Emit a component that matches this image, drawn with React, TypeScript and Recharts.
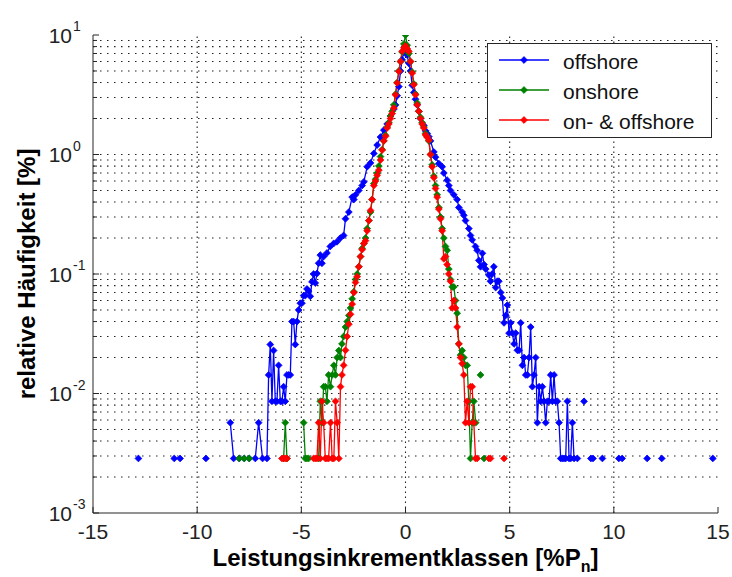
import { LineChart, Line, XAxis, YAxis, ReferenceLine, Legend } from 'recharts';

const FONT = '"Liberation Sans", Arial, Helvetica, sans-serif';
const AXIS = '#262626';

const xTicks = [-15, -10, -5, 0, 5, 10, 15];
const xGrid = [-10, -5, 0, 5, 10];
const yMajor = [0.001, 0.01, 0.1, 1, 10];
const yTicks = [
  0.001, 0.002, 0.003, 0.004, 0.005, 0.006, 0.007, 0.008, 0.009,
  0.01, 0.02, 0.03, 0.04, 0.05, 0.06, 0.07, 0.08, 0.09,
  0.1, 0.2, 0.3, 0.4, 0.5, 0.6, 0.7, 0.8, 0.9,
  1, 2, 3, 4, 5, 6, 7, 8, 9, 10,
];
const yGrid = yTicks.filter((v) => v > 0.001 && v < 10);

// [Leistungsinkrement, relative Häufigkeit]; null = leere Klasse (Linie unterbrochen)
const offshore: [number, number | null][] = [
  [-12.82, 0.00286], [-12.0, null],
  [-11.1, 0.00286], [-10.82, 0.00286], [-10.2, null],
  [-9.58, 0.00286], [-9.0, null],
  [-8.41, 0.0057], [-8.25, 0.00286], [-7.98, 0.00286], [-7.74, 0.00286], [-7.5, 0.00286],
  [-7.21, 0.00286], [-7.05, 0.0057], [-6.86, 0.00286], [-6.65, 0.00286],
  [-6.57, 0.0143], [-6.49, 0.0257], [-6.41, 0.0086], [-6.33, 0.0229], [-6.25, 0.0086],
  [-6.17, 0.0086], [-6.09, 0.0172], [-6.01, 0.0086], [-5.93, 0.0086], [-5.85, 0.0114],
  [-5.77, 0.0086], [-5.69, 0.0143], [-5.61, 0.0143], [-5.53, 0.0143], [-5.45, 0.04],
  [-5.37, 0.04], [-5.29, 0.0257], [-5.21, 0.04], [-5.13, 0.05], [-5.05, 0.057],
  [-4.97, 0.057], [-4.89, 0.066], [-4.81, 0.066], [-4.73, 0.075], [-4.65, 0.072],
  [-4.57, 0.065], [-4.49, 0.086], [-4.41, 0.1], [-4.33, 0.084], [-4.25, 0.101],
  [-4.17, 0.123], [-4.09, 0.144], [-4.01, 0.123], [-3.93, 0.14], [-3.77, 0.15],
  [-3.61, 0.17], [-3.45, 0.18], [-3.29, 0.186], [-3.13, 0.2], [-2.97, 0.21],
  [-2.88, 0.29], [-2.72, 0.33], [-2.56, 0.44], [-2.48, 0.42], [-2.4, 0.46],
  [-2.24, 0.5], [-2.08, 0.55], [-2.0, 0.59], [-1.84, 0.79], [-1.68, 0.85],
  [-1.52, 1.02], [-1.36, 1.2], [-1.2, 1.4], [-1.04, 1.6], [-0.88, 1.8],
  [-0.72, 2.1], [-0.56, 2.4], [-0.48, 2.6], [-0.4, 3.1], [-0.32, 3.7],
  [-0.24, 5.0], [-0.16, 6.2], [-0.08, 7.2], [0, 7.8], [0.08, 6.8],
  [0.16, 5.8], [0.24, 5.0], [0.32, 3.8], [0.4, 3.3], [0.48, 2.9],
  [0.56, 2.6], [0.64, 2.3], [0.72, 2.0], [0.88, 1.75], [0.96, 1.58],
  [1.04, 1.5], [1.12, 1.41], [1.2, 1.3], [1.36, 1.05], [1.44, 0.95],
  [1.6, 0.84], [1.76, 0.79], [1.84, 0.7], [2.0, 0.61], [2.08, 0.55],
  [2.16, 0.5], [2.32, 0.46], [2.48, 0.42], [2.56, 0.36], [2.72, 0.33],
  [2.8, 0.31], [2.88, 0.28], [3.04, 0.24], [3.12, 0.21], [3.2, 0.193],
  [3.36, 0.17], [3.44, 0.158], [3.52, 0.13], [3.6, 0.115], [3.69, 0.149],
  [3.77, 0.12], [3.85, 0.11], [4.0, 0.098], [4.08, 0.087], [4.16, 0.1],
  [4.24, 0.115], [4.33, 0.077], [4.41, 0.087], [4.48, 0.087], [4.57, 0.07],
  [4.65, 0.063], [4.73, 0.039], [4.81, 0.045], [4.89, 0.055], [4.97, 0.032],
  [5.05, 0.039], [5.13, 0.032], [5.21, 0.026], [5.29, 0.032], [5.37, 0.023],
  [5.45, 0.023], [5.53, 0.039], [5.61, 0.0172], [5.69, 0.02], [5.77, 0.0143],
  [5.85, 0.0143], [5.93, 0.02], [6.01, 0.036], [6.09, 0.0114], [6.17, 0.0143],
  [6.25, 0.02], [6.33, 0.0057], [6.41, 0.0114], [6.49, 0.0086], [6.57, 0.0114],
  [6.65, 0.0086], [6.73, 0.0057], [6.81, 0.0086], [6.89, 0.0086], [6.97, 0.0143],
  [7.05, 0.0086], [7.13, 0.0143], [7.21, 0.0086], [7.29, 0.0086], [7.37, 0.0057],
  [7.45, 0.00286], [7.53, 0.00286], [7.61, 0.00286], [7.69, 0.00286], [7.77, 0.0086],
  [7.85, 0.00286], [7.93, 0.00286], [8.01, 0.0057], [8.09, 0.00286], [8.25, 0.00286],
  [8.4, null], [8.57, 0.0086], [8.7, null],
  [8.9, 0.00286], [9.0, 0.00286], [9.2, null],
  [9.45, 0.00286], [9.8, null],
  [10.24, 0.00286], [10.4, 0.00286], [11.0, null],
  [11.6, 0.00286], [12.0, null],
  [12.3, 0.00286], [13.5, null],
  [14.75, 0.00286],
];

const onshore: [number, number | null][] = [
  [-7.98, 0.00286], [-7.74, 0.00286], [-7.5, 0.00286], [-7.0, null],
  [-5.85, 0.00286], [-5.77, 0.0057], [-5.69, 0.00286], [-5.3, null],
  [-4.89, 0.0057], [-4.81, 0.00286], [-4.73, 0.00286], [-4.65, 0.00286], [-4.4, null],
  [-4.17, 0.00286], [-4.09, 0.0086], [-4.01, 0.0057], [-3.93, 0.0114], [-3.85, 0.0114],
  [-3.77, 0.0086], [-3.69, 0.0143], [-3.6, 0.0114], [-3.52, 0.0143], [-3.44, 0.0172],
  [-3.36, 0.0143], [-3.28, 0.02], [-3.2, 0.0229], [-3.12, 0.02], [-3.05, 0.026],
  [-2.97, 0.03], [-2.88, 0.036], [-2.8, 0.04], [-2.72, 0.045], [-2.64, 0.052],
  [-2.56, 0.062], [-2.48, 0.071], [-2.4, 0.09], [-2.32, 0.1], [-2.24, 0.115],
  [-2.16, 0.14], [-2.08, 0.164], [-2.0, 0.18], [-1.92, 0.2], [-1.84, 0.24],
  [-1.76, 0.28], [-1.68, 0.33], [-1.6, 0.42], [-1.52, 0.57], [-1.44, 0.62],
  [-1.36, 0.7], [-1.28, 0.8], [-1.2, 0.96], [-1.12, 1.1], [-1.04, 1.3],
  [-0.96, 1.45], [-0.88, 1.7], [-0.8, 1.85], [-0.72, 2.1], [-0.64, 2.3],
  [-0.56, 2.6], [-0.48, 3.2], [-0.4, 4.0], [-0.32, 5.0], [-0.24, 6.0],
  [-0.16, 7.2], [-0.08, 8.4], [0, 10.0], [0.08, 8.2], [0.16, 7.0],
  [0.24, 6.0], [0.32, 4.9], [0.4, 3.9], [0.48, 3.2], [0.56, 2.7],
  [0.64, 2.3], [0.72, 2.05], [0.8, 1.85], [0.88, 1.7], [0.96, 1.5],
  [1.04, 1.4], [1.12, 1.3], [1.2, 1.0], [1.28, 0.82], [1.36, 0.66],
  [1.44, 0.55], [1.52, 0.46], [1.6, 0.36], [1.68, 0.3], [1.76, 0.24],
  [1.84, 0.2], [1.92, 0.17], [2.0, 0.158], [2.08, 0.11], [2.16, 0.09],
  [2.24, 0.078], [2.32, 0.078], [2.4, 0.06], [2.48, 0.047], [2.56, 0.026],
  [2.64, 0.021], [2.72, 0.0229], [2.8, 0.02], [2.88, 0.0172], [2.96, 0.0172],
  [3.04, 0.0086], [3.12, 0.00286], [3.2, 0.0057], [3.28, 0.0086], [3.37, 0.0057],
  [3.48, null], [3.6, 0.0143], [3.68, null], [3.77, 0.00286],
];

const combined: [number, number | null][] = [
  [-5.93, 0.00286], [-5.85, 0.00286], [-5.77, 0.00286], [-5.69, 0.00286], [-5.0, null],
  [-4.41, 0.00286], [-4.33, 0.00286], [-4.25, 0.00286], [-4.17, 0.0057], [-4.09, 0.00286],
  [-4.01, 0.0086], [-3.93, 0.0057], [-3.85, 0.00286], [-3.77, 0.00286], [-3.69, 0.00286],
  [-3.6, 0.0057], [-3.52, 0.00286], [-3.44, 0.00286], [-3.36, 0.0086], [-3.28, 0.0057],
  [-3.2, 0.00286], [-3.12, 0.0114], [-3.05, 0.0143], [-2.97, 0.0172], [-2.88, 0.023],
  [-2.8, 0.03], [-2.72, 0.038], [-2.64, 0.046], [-2.56, 0.056], [-2.48, 0.07],
  [-2.4, 0.085], [-2.32, 0.095], [-2.24, 0.115], [-2.16, 0.14], [-2.08, 0.16],
  [-2.0, 0.18], [-1.92, 0.19], [-1.84, 0.23], [-1.76, 0.28], [-1.68, 0.34],
  [-1.6, 0.42], [-1.52, 0.55], [-1.44, 0.6], [-1.36, 0.67], [-1.28, 0.74],
  [-1.2, 0.9], [-1.12, 1.09], [-1.04, 1.3], [-0.96, 1.42], [-0.88, 1.67],
  [-0.8, 1.8], [-0.72, 2.0], [-0.64, 2.2], [-0.56, 2.45], [-0.48, 3.16],
  [-0.4, 3.97], [-0.32, 4.96], [-0.24, 6.0], [-0.16, 7.3], [-0.08, 7.8],
  [0, 8.1], [0.08, 7.7], [0.16, 7.3], [0.24, 6.0], [0.32, 4.8],
  [0.4, 3.84], [0.48, 3.16], [0.56, 2.6], [0.64, 2.3], [0.72, 2.0],
  [0.8, 1.8], [0.88, 1.67], [0.96, 1.46], [1.04, 1.4], [1.12, 1.32],
  [1.2, 1.0], [1.28, 0.79], [1.36, 0.64], [1.44, 0.52], [1.52, 0.44],
  [1.6, 0.35], [1.68, 0.29], [1.76, 0.23], [1.84, 0.134], [1.92, 0.14],
  [2.0, 0.12], [2.08, 0.1], [2.16, 0.087], [2.24, 0.052], [2.32, 0.06],
  [2.4, 0.052], [2.48, 0.036], [2.56, 0.026], [2.64, 0.02], [2.72, 0.0178],
  [2.8, 0.0143], [2.88, 0.0057], [2.96, 0.0086], [3.04, 0.0057], [3.12, 0.0114],
  [3.2, 0.0114], [3.28, 0.0057], [3.36, 0.00286], [3.44, 0.00286], [3.7, null],
  [4.0, 0.00286], [4.08, 0.00286], [4.4, null], [4.73, 0.00286],
];

const series = [
  { name: 'offshore', color: '#0000ff', points: offshore },
  { name: 'onshore', color: '#008000', points: onshore },
  { name: 'on- & offshore', color: '#ff0000', points: combined },
];
const seriesOrder = series.map((s) => s.name);

const isMajor = (v: number) => yMajor.some((m) => Math.abs(m - v) < m * 1e-6);

const makeDot = (color: string) => (props: any) => {
  const { cx, cy, index, value } = props;
  if (value == null || cx == null || cy == null || Number.isNaN(cy)) return <g key={`e${index}`} />;
  const r = 3.4;
  return (
    <path
      key={`d${index}`}
      d={`M${cx},${cy - r}L${cx + r},${cy}L${cx},${cy + r}L${cx - r},${cy}Z`}
      fill={color}
      stroke={color}
      strokeWidth={0.8}
    />
  );
};

const leftTick = (props: any) => {
  const { x, y, payload } = props;
  const major = isMajor(payload.value);
  const exp = Math.round(Math.log10(payload.value));
  return (
    <g>
      <line x1={x} x2={x + (major ? 6 : 4)} y1={y} y2={y} stroke={AXIS} />
      {major && (
        <>
          <text x={x - 21} y={y + 7.5} textAnchor="end" fontSize={21} fill="#222">10</text>
          <text x={x - 20} y={y - 4} textAnchor="start" fontSize={14} fill="#222">{exp}</text>
        </>
      )}
    </g>
  );
};

const rightTick = (props: any) => {
  const { x, y, payload } = props;
  const major = isMajor(payload.value);
  return <line x1={x} x2={x - (major ? 6 : 4)} y1={y} y2={y} stroke={AXIS} />;
};

const bottomTick = (props: any) => {
  const { x, y, payload } = props;
  return (
    <g>
      <line x1={x} x2={x} y1={y} y2={y - 6} stroke={AXIS} />
      <text x={x} y={y + 26} textAnchor="middle" fontSize={21} fill="#222">{payload.value}</text>
    </g>
  );
};

const topTick = (props: any) => {
  const { x, y } = props;
  return <line x1={x} x2={x} y1={y} y2={y + 6} stroke={AXIS} />;
};

const renderLegend = (props: any) => {
  const items = [...(props.payload ?? [])].sort(
    (a: any, b: any) => seriesOrder.indexOf(a.value) - seriesOrder.indexOf(b.value),
  );
  return (
    <svg width={225} height={95} style={{ display: 'block' }}>
      <rect x={0.5} y={0.5} width={224} height={94} fill="#fff" stroke={AXIS} />
      {items.map((it: any, i: number) => {
        const ly = 17 + i * 30;
        const c = it.color;
        return (
          <g key={i}>
            <line x1={12} x2={62} y1={ly} y2={ly} stroke={c} strokeWidth={1.3} />
            <path d={`M37,${ly - 3.4}L40.4,${ly}L37,${ly + 3.4}L33.6,${ly}Z`} fill={c} stroke={c} strokeWidth={0.8} />
            <text x={76} y={ly + 9} fontSize={21} fill="#111" fontFamily={FONT}>{it.value}</text>
          </g>
        );
      })}
    </svg>
  );
};

export default function App() {
  return (
    <div style={{ position: 'absolute', left: 0, top: 0, width: 732, height: 577, background: '#fff', fontFamily: FONT }}>
      <LineChart
        width={732}
        height={577}
        margin={{ top: 35, right: 14, bottom: 0, left: 0 }}
        style={{ fontFamily: FONT }}
      >
        <XAxis
          xAxisId="b"
          type="number"
          dataKey="x"
          domain={[-15, 15]}
          ticks={xTicks}
          interval={0}
          allowDataOverflow
          height={64}
          tickSize={0}
          tickMargin={0}
          tickLine={false}
          axisLine={{ stroke: AXIS }}
          tick={bottomTick}
          label={{
            content: (p: any) => {
              const vb = p.viewBox;
              return (
                <text x={vb.x + vb.width / 2} y={vb.y + 53} textAnchor="middle" fontSize={24} fontWeight="bold" fill="#000">
                  <tspan>Leistungsinkrementklassen [%P</tspan>
                  <tspan fontSize={16} dy={6}>n</tspan>
                  <tspan dy={-6}>]</tspan>
                </text>
              );
            },
          }}
        />
        <XAxis
          xAxisId="t"
          orientation="top"
          type="number"
          domain={[-15, 15]}
          ticks={xTicks}
          interval={0}
          allowDataOverflow
          height={0}
          tickSize={0}
          tickMargin={0}
          tickLine={false}
          axisLine={{ stroke: AXIS }}
          tick={topTick}
        />
        <YAxis
          yAxisId="l"
          type="number"
          scale="log"
          domain={[0.001, 10]}
          ticks={yTicks}
          interval={0}
          allowDataOverflow
          width={93}
          tickSize={0}
          tickMargin={0}
          tickLine={false}
          axisLine={{ stroke: AXIS }}
          tick={leftTick}
          label={{
            content: (p: any) => {
              const vb = p.viewBox;
              const cy = vb.y + vb.height / 2;
              return (
                <text x={35} y={cy} transform={`rotate(-90, 35, ${cy})`} textAnchor="middle" fontSize={24} fontWeight="bold" fill="#000">
                  relative Häufigkeit [%]
                </text>
              );
            },
          }}
        />
        <YAxis
          yAxisId="r"
          orientation="right"
          type="number"
          scale="log"
          domain={[0.001, 10]}
          ticks={yTicks}
          interval={0}
          allowDataOverflow
          width={0}
          tickSize={0}
          tickMargin={0}
          tickLine={false}
          axisLine={{ stroke: AXIS }}
          tick={rightTick}
        />
        {yGrid.map((v) => (
          <ReferenceLine
            key={`hy${v}`}
            y={v}
            xAxisId="b"
            yAxisId="l"
            stroke="#222"
            strokeWidth={1.1}
            strokeDasharray="1.5 5.5"
          />
        ))}
        {xGrid.map((v) => (
          <ReferenceLine
            key={`vx${v}`}
            x={v}
            xAxisId="b"
            yAxisId="l"
            stroke="#222"
            strokeWidth={1.1}
            strokeDasharray="1.5 3.5"
          />
        ))}
        {series.map((s) => (
          <Line
            key={s.name}
            name={s.name}
            data={s.points.map(([x, y]) => ({ x, y }))}
            dataKey="y"
            xAxisId="b"
            yAxisId="l"
            type="linear"
            stroke={s.color}
            strokeWidth={1.3}
            dot={makeDot(s.color)}
            activeDot={false}
            connectNulls={false}
            isAnimationActive={false}
          />
        ))}
        <Legend
          layout="vertical"
          align="center"
          verticalAlign="middle"
          width={225}
          height={95}
          wrapperStyle={{ left: 487, top: 43, width: 225, height: 95 }}
          content={renderLegend}
        />
      </LineChart>
    </div>
  );
}
